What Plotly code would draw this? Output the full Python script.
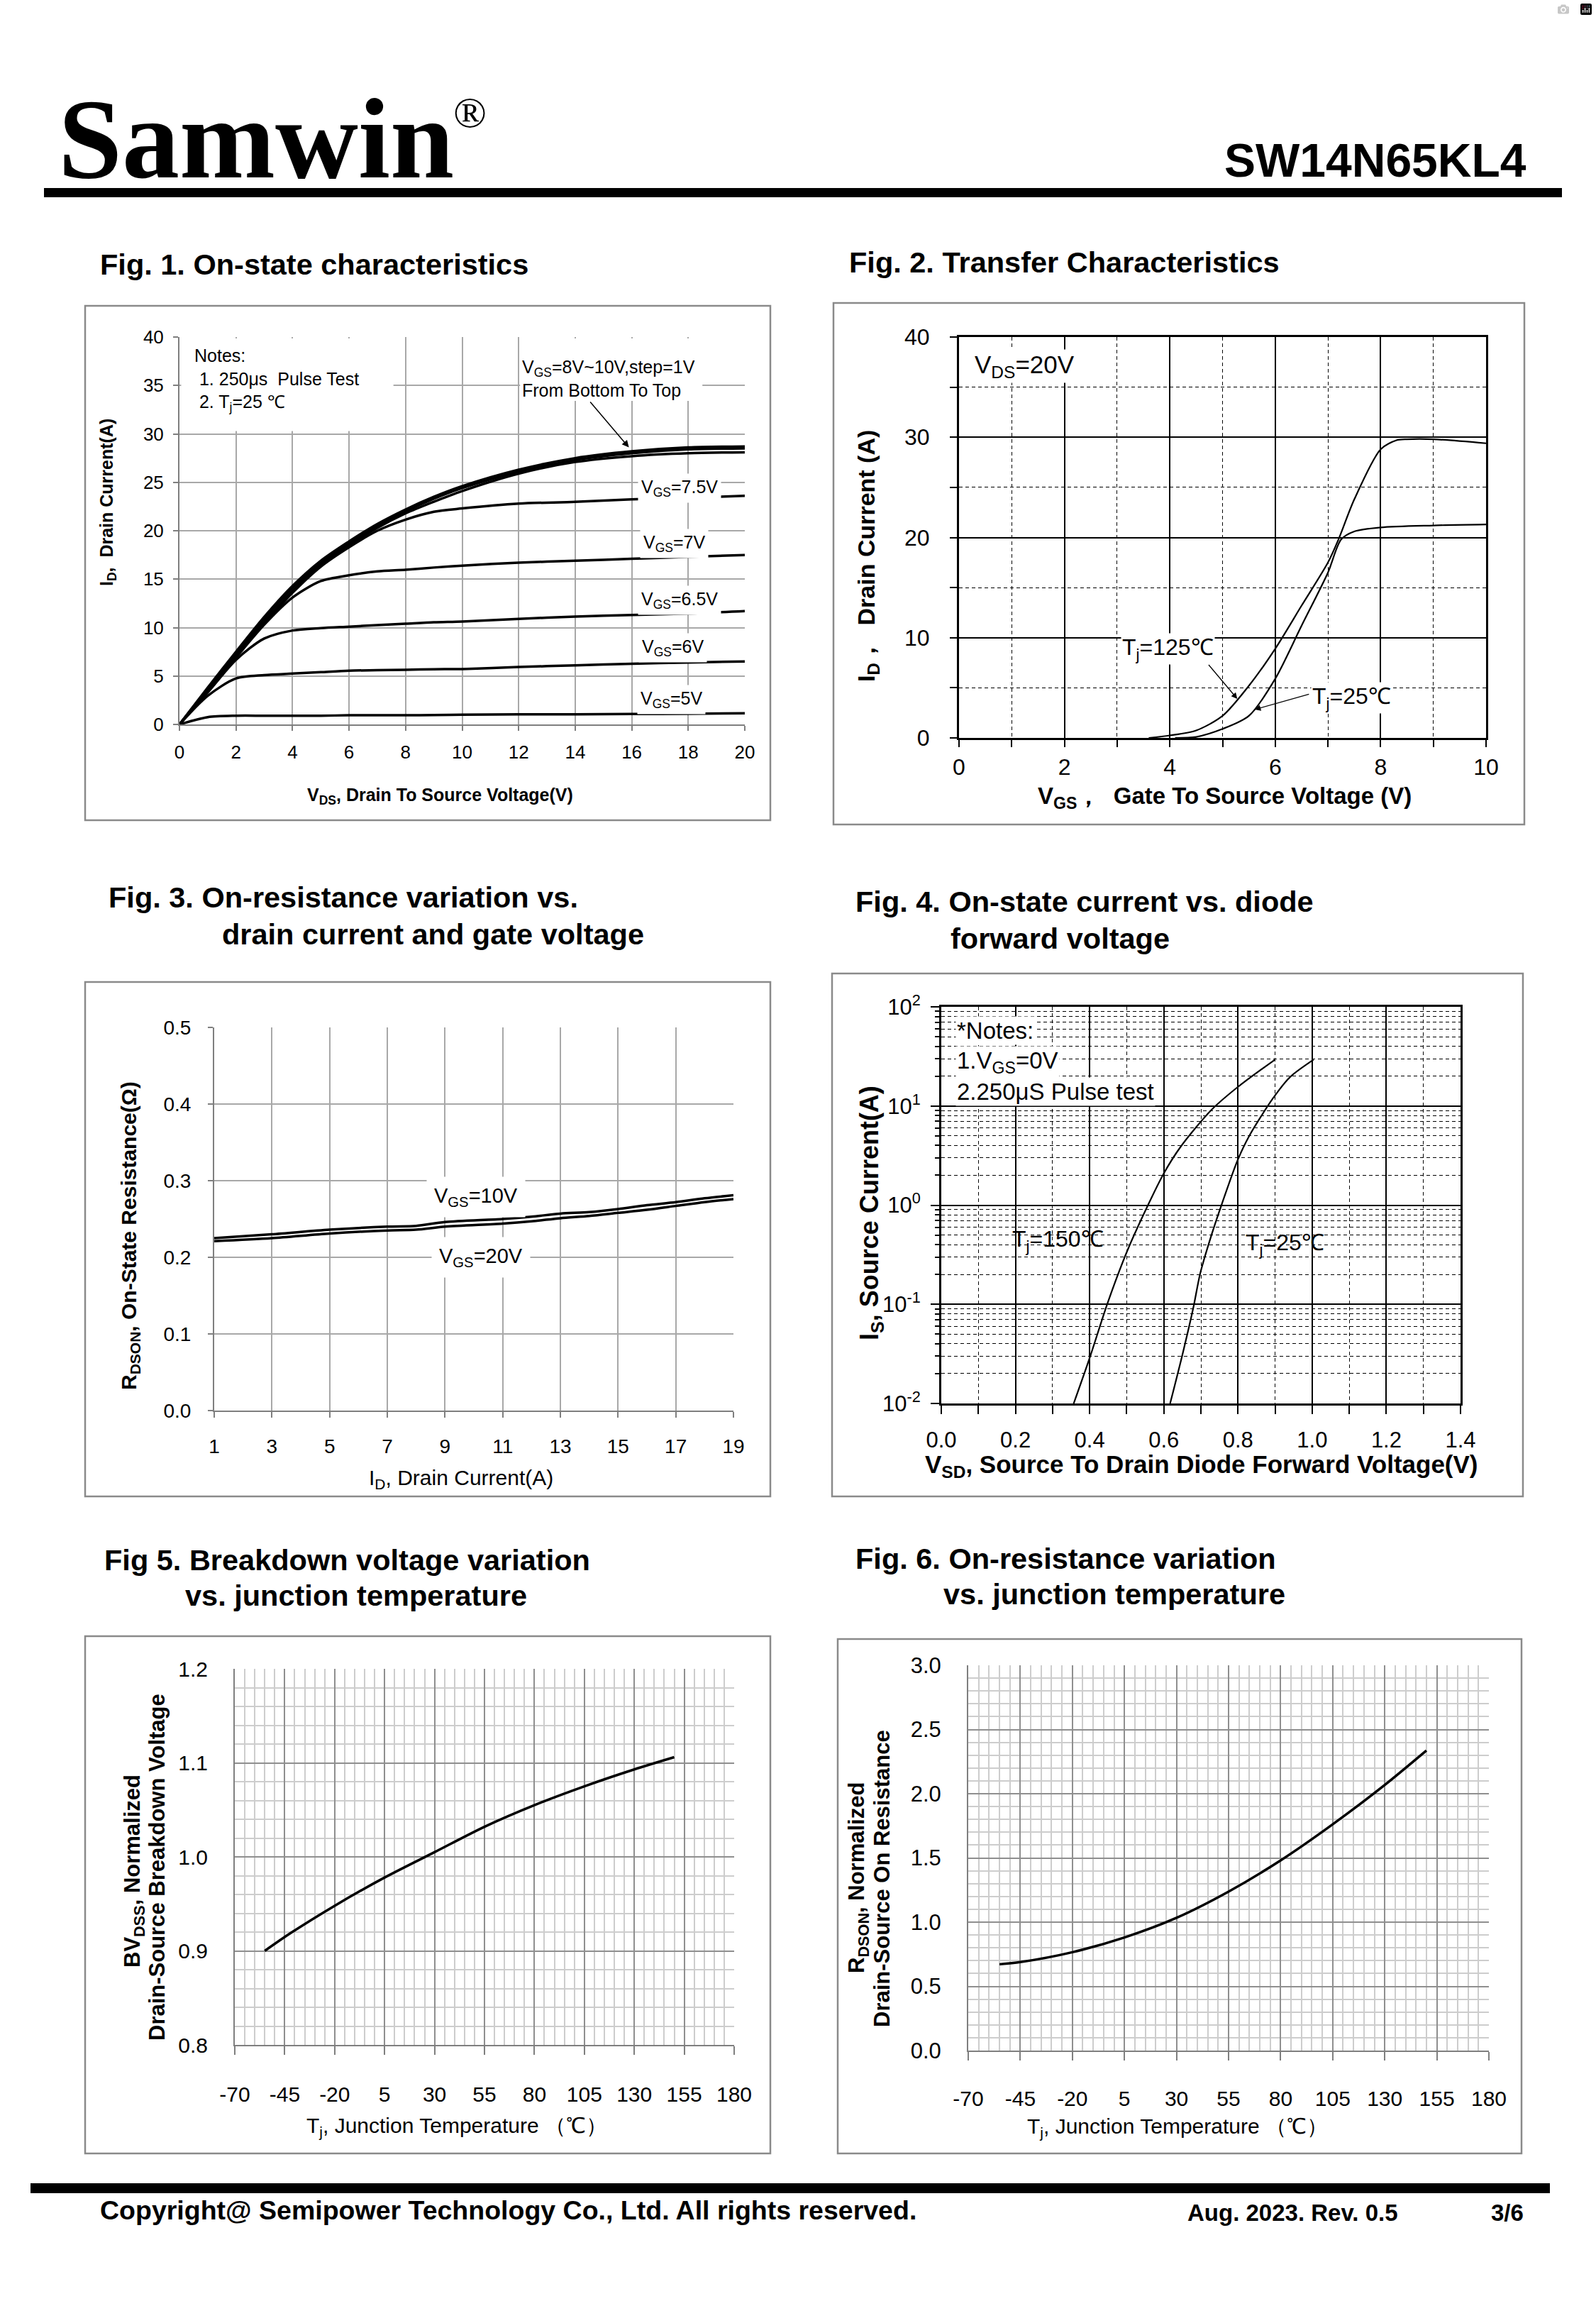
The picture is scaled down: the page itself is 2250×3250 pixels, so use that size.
import plotly.graph_objects as go

W, H = 2250, 3250
FONT = "Liberation Sans, Arial, Helvetica, sans-serif"

# ---------------- data ----------------
# Fig 1: on-state characteristics
f1_vds = [0, 1, 2, 3, 4, 5, 6, 7, 8, 9, 10, 12, 14, 16, 18, 20]
f1_vgs5 = [0, 0.75, 0.9, 0.9, 0.9, 0.9, 0.95, 0.95, 0.95, 0.97, 1.0, 1.05, 1.05, 1.08, 1.1, 1.15]
f1_vgs6 = [0, 2.95, 4.75, 5.1, 5.25, 5.4, 5.55, 5.6, 5.65, 5.7, 5.72, 5.93, 6.1, 6.27, 6.4, 6.5]
f1_vgs65 = [0, 3.3, 6.67, 8.87, 9.7, 9.95, 10.1, 10.25, 10.4, 10.55, 10.63, 10.9, 11.13, 11.3, 11.45, 11.7]
f1_vgs7 = [0, 3.4, 6.9, 10.3, 13.1, 14.8, 15.4, 15.8, 15.97, 16.2, 16.4, 16.7, 16.9, 17.1, 17.3, 17.5]
f1_vgs75 = [0, 3.5, 7.1, 10.4, 13.6, 16.3, 18.3, 20.0, 21.15, 21.96, 22.3, 22.8, 22.98, 23.25, 23.4, 23.6]
f1_vgs8 = [0, 3.6, 7.2, 10.6, 13.8, 16.5, 18.5, 20.3, 21.8, 23.0, 24.1, 25.9, 27.1, 27.7, 28.0, 28.1]
f1_vgs9 = [0, 3.7, 7.4, 10.9, 14.1, 16.7, 18.7, 20.5, 22.0, 23.3, 24.4, 26.1, 27.3, 28.0, 28.4, 28.5]
f1_vgs10 = [0, 3.8, 7.5, 11.1, 14.3, 16.9, 18.9, 20.7, 22.2, 23.5, 24.6, 26.3, 27.5, 28.2, 28.6, 28.7]

# Fig 2: transfer characteristics
f2_vgs_125 = [3.6, 4.0, 4.5, 5.0, 5.5, 6.0, 6.5, 7.0, 7.2, 7.5, 8.0, 8.3, 8.5, 9.0, 10.0]
f2_id_125 = [0, 0.25, 0.75, 2.2, 5.2, 8.9, 13.2, 17.5, 19.8, 23.8, 28.8, 29.7, 29.8, 29.8, 29.4]
f2_vgs_25 = [4.1, 4.5, 5.0, 5.5, 6.0, 6.5, 7.0, 7.25, 7.5, 8.0, 9.0, 10.0]
f2_id_25 = [0, 0.1, 0.9, 2.2, 5.9, 11.2, 16.5, 19.8, 20.6, 21.0, 21.2, 21.3]

# Fig 3: on-resistance vs drain current
f3_id = [1, 3, 5, 7, 8, 9, 11, 12, 13, 14, 15, 16, 17, 18, 19]
f3_r10 = [0.225, 0.23, 0.236, 0.24, 0.241, 0.246, 0.25, 0.253, 0.257, 0.259, 0.263, 0.268, 0.272, 0.277, 0.281]
f3_r20 = [0.221, 0.225, 0.231, 0.235, 0.236, 0.24, 0.244, 0.247, 0.251, 0.254, 0.258, 0.262, 0.267, 0.272, 0.276]

# Fig 4: body diode forward voltage
f4_vsd_150 = [0.357, 0.401, 0.448, 0.502, 0.555, 0.6, 0.645, 0.728, 0.8, 0.9]
f4_is_150 = [0.01, 0.0295, 0.102, 0.35, 0.96, 2.09, 3.86, 9.1, 15.6, 29.4]
f4_vsd_25 = [0.617, 0.651, 0.68, 0.698, 0.73, 0.757, 0.799, 0.829, 0.894, 0.941, 1.004]
f4_is_25 = [0.01, 0.032, 0.094, 0.204, 0.52, 1.04, 2.84, 4.89, 11.9, 19.7, 29.4]

# Fig 5: breakdown voltage vs temperature
f5_tj = [-55, -42, -20, 5, 30, 55, 80, 105, 130, 150]
f5_bv = [0.9, 0.919, 0.948, 0.978, 1.005, 1.032, 1.055, 1.075, 1.093, 1.106]

# Fig 6: on-resistance vs temperature
f6_tj = [-55, -45, -20, 5, 30, 55, 80, 105, 130, 150]
f6_r = [0.672, 0.689, 0.766, 0.881, 1.034, 1.238, 1.481, 1.762, 2.068, 2.336]

# tick labels
f4_ticks = [0.01, 0.1, 1, 10, 100]
f4_ticktext = ["10<sup>-2</sup>", "10<sup>-1</sup>", "10<sup>0</sup>", "10<sup>1</sup>", "10<sup>2</sup>"]
f4_minor = [m * d for d in [0.01, 0.1, 1, 10] for m in [2, 3, 4, 5, 6, 7, 8, 9]]
tj_ticks = [-70, -45, -20, 5, 30, 55, 80, 105, 130, 155, 180]
tj_ticktext = ["-70", "-45", "-20", "5", "30", "55", "80", "105", "130", "155", "180"]

# ---------------- helpers ----------------
def dx(a, b):
    return [a / W, b / W]

def dy(top, bottom):
    return [1 - bottom / H, 1 - top / H]

def px(x):
    return x / W

def py(y):
    return 1 - y / H

fig = go.Figure()

def line_trace(x, y, ax, width):
    fig.add_trace(go.Scatter(
        x=x, y=y, mode="lines",
        line=dict(color="black", width=width, shape="spline", smoothing=0.8),
        xaxis="x" + ax, yaxis="y" + ax, hoverinfo="skip"))

for s in [f1_vgs5, f1_vgs6, f1_vgs65, f1_vgs7, f1_vgs75, f1_vgs8, f1_vgs9, f1_vgs10]:
    line_trace(f1_vds, s, "", 3.5)
line_trace(f2_vgs_125, f2_id_125, "2", 2.2)
line_trace(f2_vgs_25, f2_id_25, "2", 2.2)
line_trace(f3_id, f3_r10, "3", 3.5)
line_trace(f3_id, f3_r20, "3", 3.5)
line_trace(f4_vsd_150, f4_is_150, "4", 2.2)
line_trace(f4_vsd_25, f4_is_25, "4", 2.2)
line_trace(f5_tj, f5_bv, "5", 3.5)
line_trace(f6_tj, f6_r, "6", 3.5)

GRAY_GRID = "#a8a8a8"
GRAY_LINE = "#7f7f7f"

def gray_axis(domain, anchor, rng, dtick, tick0, size, ticklen=7, standoff=6, fmt=None, **kw):
    d = dict(domain=domain, anchor=anchor, range=rng, dtick=dtick, tick0=tick0,
             showgrid=True, gridcolor=GRAY_GRID, gridwidth=2, zeroline=False,
             showline=True, linecolor=GRAY_LINE, linewidth=2, ticks="outside",
             ticklen=ticklen, tickwidth=2, tickcolor=GRAY_LINE,
             tickfont=dict(size=size, family=FONT, color="black"),
             ticklabelstandoff=standoff, automargin=False, fixedrange=True)
    if fmt:
        d["tickformat"] = fmt
    d.update(kw)
    return d

def black_axis(domain, anchor, rng, dtick, minor_dtick, size, ticklen=10, standoff=6, **kw):
    d = dict(domain=domain, anchor=anchor, range=rng, dtick=dtick, tick0=0,
             showgrid=True, gridcolor="black", gridwidth=1.5, zeroline=False,
             showline=True, mirror=True, linecolor="black", linewidth=3,
             ticks="outside", ticklen=ticklen, tickwidth=2, tickcolor="black",
             tickfont=dict(size=size, family=FONT, color="black"),
             ticklabelstandoff=standoff, automargin=False, fixedrange=True,
             minor=dict(dtick=minor_dtick, showgrid=True, gridcolor="black", gridwidth=1.2,
                        griddash="5px,4px", ticks="outside", ticklen=ticklen, tickwidth=2,
                        tickcolor="black"))
    d.update(kw)
    return d

layout = dict(
    width=W, height=H, margin=dict(l=0, r=0, t=0, b=0),
    paper_bgcolor="white", plot_bgcolor="white", showlegend=False,
    font=dict(family=FONT, color="black"),
    xaxis=gray_axis(dx(253, 1050), "y", [0, 20], 2, 0, 26, standoff=8),
    yaxis=gray_axis(dy(475, 1021), "x", [0, 40], 5, 0, 26, standoff=8),
    xaxis2=black_axis(dx(1352, 2095), "y2", [0, 10], 2, 1, 32, standoff=1),
    yaxis2=black_axis(dy(475, 1040), "x2", [0, 40], 10, 5, 32, standoff=22),
    xaxis3=gray_axis(dx(302, 1034), "y3", [1, 19], 2, 1, 28, ticklen=8, standoff=16),
    yaxis3=gray_axis(dy(1448, 1988), "x3", [0, 0.5], 0.1, 0, 28, ticklen=7, standoff=18, fmt=".1f"),
    xaxis4=black_axis(dx(1327, 2059), "y4", [0, 1.4], 0.2, 0.1, 31, ticklen=12, standoff=10, tickformat=".1f"),
    yaxis4=dict(domain=dy(1419, 1978), anchor="x4", type="log", range=[-2, 2],
                tickmode="array", tickvals=f4_ticks, ticktext=f4_ticktext,
                showgrid=True, gridcolor="black", gridwidth=1.5, zeroline=False,
                showline=True, mirror=True, linecolor="black", linewidth=3,
                ticks="outside", ticklen=12, tickwidth=2, tickcolor="black",
                tickfont=dict(size=31, family=FONT, color="black"),
                ticklabelstandoff=8, automargin=False, fixedrange=True,
                minor=dict(tickmode="array", tickvals=f4_minor, showgrid=True, gridcolor="black",
                           gridwidth=1.2, griddash="5px,4px", ticks="outside", ticklen=6,
                           tickwidth=2, tickcolor="black")),
    xaxis5=gray_axis(dx(331, 1035), "y5", [-70, 180], 25, -70, 30, ticklen=12, standoff=30,
                     gridcolor="#8f8f8f", tickmode="array", tickvals=tj_ticks, ticktext=tj_ticktext,
                     minor=dict(dtick=5, tick0=-70, showgrid=True, gridcolor="#cdcdcd", gridwidth=1.5)),
    yaxis5=gray_axis(dy(2352, 2882), "x5", [0.8, 1.2], 0.1, 0.8, 30, ticklen=0, standoff=30, fmt=".1f",
                     gridcolor="#8f8f8f", ticks="",
                     minor=dict(dtick=0.02, tick0=0.8, showgrid=True, gridcolor="#cdcdcd", gridwidth=1.5)),
    xaxis6=gray_axis(dx(1365, 2099), "y6", [-70, 180], 25, -70, 30, ticklen=12, standoff=28,
                     gridcolor="#8f8f8f", tickmode="array", tickvals=tj_ticks, ticktext=tj_ticktext,
                     minor=dict(dtick=5, tick0=-70, showgrid=True, gridcolor="#cdcdcd", gridwidth=1.5)),
    yaxis6=gray_axis(dy(2347, 2890), "x6", [0, 3], 0.5, 0, 31, ticklen=0, standoff=30, fmt=".1f",
                     gridcolor="#8f8f8f", ticks="",
                     minor=dict(dtick=0.1, tick0=0, showgrid=True, gridcolor="#cdcdcd", gridwidth=1.5)),
)
fig.update_layout(**layout)

# ---------------- shapes ----------------
shapes = []
BOX = "#8a8a8a"
for (x0, y0, x1, y1) in [(120, 431, 1086, 1156), (1175, 427, 2149, 1162),
                         (120, 1384, 1086, 2109), (1173, 1372, 2147, 2109),
                         (120, 2306, 1086, 3035), (1181, 2310, 2145, 3035)]:
    shapes.append(dict(type="rect", xref="paper", yref="paper", x0=px(x0), x1=px(x1),
                       y0=py(y1), y1=py(y0), line=dict(color=BOX, width=2.5), fillcolor="rgba(0,0,0,0)"))
shapes.append(dict(type="rect", xref="paper", yref="paper", x0=px(62), x1=px(2202), y0=py(278), y1=py(265),
                   line=dict(width=0), fillcolor="black"))
shapes.append(dict(type="rect", xref="paper", yref="paper", x0=px(43), x1=px(2185), y0=py(3091), y1=py(3077),
                   line=dict(width=0), fillcolor="black"))
shapes.append(dict(type="rect", xref="x", yref="y", x0=0.06, x1=7.57, y0=30.3, y1=39.85,
                   line=dict(width=0), fillcolor="white", layer="between"))
shapes.append(dict(type="rect", xref="x", yref="y", x0=12.05, x1=18.5, y0=33.4, y1=39.85,
                   line=dict(width=0), fillcolor="white", layer="between"))
fig.update_layout(shapes=shapes)

# ---------------- annotations ----------------
ann = []

def ptext(text, x, y, size, xanchor="left", yanchor="middle", angle=0, family=FONT, bg=None, align="left"):
    d = dict(text=text, x=px(x), y=py(y), xref="paper", yref="paper", showarrow=False,
             xanchor=xanchor, yanchor=yanchor, textangle=angle, align=align,
             font=dict(size=size, family=family, color="black"))
    if bg:
        d["bgcolor"] = bg
    ann.append(d)

def dtext(text, x, y, ax, size, xanchor="center", bg="white", pad=4, align="left"):
    d = dict(text=text, x=x, y=y, xref="x" + ax, yref="y" + ax, showarrow=False,
             xanchor=xanchor, yanchor="middle", align=align,
             font=dict(size=size, family=FONT, color="black"), borderpad=pad)
    if bg:
        d["bgcolor"] = bg
    ann.append(d)

def arrow(x, y, tx, ty, ax, width=1.5, head=2):
    ann.append(dict(text="", x=x, y=y, ax=tx, ay=ty, xref="x" + ax, yref="y" + ax,
                    axref="x" + ax, ayref="y" + ax, showarrow=True, arrowhead=head,
                    arrowsize=1.3, arrowwidth=width, arrowcolor="black", standoff=0, startstandoff=0))

# header
ptext("<b>Samwin</b>", 80, 196, 162, family="Liberation Serif, Times New Roman, serif")
ptext("®", 662, 158, 62, xanchor="center", family="Liberation Serif, Times New Roman, serif")
ptext("<b>SW14N65KL4</b>", 2154, 226, 66, xanchor="right")

# figure titles
TS = 41.5
ptext("<b>Fig. 1. On-state characteristics</b>", 139, 373, TS)
ptext("<b>Fig. 2. Transfer Characteristics</b>", 1195, 369, TS)
ptext("<b>Fig. 3. On-resistance variation vs.</b>", 151, 1264, TS)
ptext("<b>drain current and gate voltage</b>", 311, 1316, TS)
ptext("<b>Fig. 4. On-state current vs. diode</b>", 1204, 1270, TS)
ptext("<b>forward voltage</b>", 1338, 1322, TS)
ptext("<b>Fig 5. Breakdown voltage variation</b>", 145, 2198, TS)
ptext("<b>vs. junction temperature</b>", 259, 2248, TS)
ptext("<b>Fig. 6. On-resistance variation</b>", 1204, 2196, TS)
ptext("<b>vs. junction temperature</b>", 1328, 2246, TS)

# footer
ptext("<b>Copyright@ Semipower Technology Co., Ltd. All rights reserved.</b>", 139, 3115, 37.5)
ptext("<b>Aug. 2023. Rev. 0.5</b>", 1672, 3118, 33)
ptext("<b>3/6</b>", 2150, 3118, 33, xanchor="right")

# Fig1
ptext("<b>V<sub>DS</sub>, Drain To Source Voltage(V)</b>", 620, 1122, 25, xanchor="center")
ptext("<b>I<sub>D</sub>,  Drain Current(A)</b>", 152, 708, 25, xanchor="center", angle=-90)
ptext("Notes:<br>\u00a01. 250μs  Pulse Test<br>\u00a02. T<sub>j</sub>=25 ℃", 272, 535, 25)
ptext("V<sub>GS</sub>=8V~10V,step=1V<br>From Bottom To Top", 734, 533, 25)
arrow(15.9, 28.6, 14.5, 33.4, "")
dtext("V<sub>GS</sub>=7.5V", 17.7, 24.4, "", 25)
dtext("V<sub>GS</sub>=7V", 17.5, 18.7, "", 25)
dtext("V<sub>GS</sub>=6.5V", 17.7, 12.8, "", 25)
dtext("V<sub>GS</sub>=6V", 17.45, 7.9, "", 25)
dtext("V<sub>GS</sub>=5V", 17.4, 2.6, "", 25)

# Fig2
ptext("<b>V<sub>GS</sub>，  Gate To Source Voltage (V)</b>", 1726, 1124, 33, xanchor="center")
ptext("<b>I<sub>D</sub>，  Drain Current (A)</b>", 1223, 784, 34, xanchor="center", angle=-90)
ptext("V<sub>DS</sub>=20V", 1372, 516, 35, bg="white")
ptext("T<sub>j</sub>=125℃", 1580, 915, 32, bg="white")
ptext("T<sub>j</sub>=25℃", 1848, 983, 32, bg="white")
arrow(5.28, 3.9, 4.72, 7.4, "2", width=1.3)
arrow(5.61, 2.83, 6.66, 4.4, "2", width=1.3)

# Fig3
ptext("I<sub>D</sub>, Drain Current(A)", 650, 2084, 30, xanchor="center")
ptext("<b>R<sub>DSON</sub>, On-State Resistance(Ω)</b>", 183, 1741, 30, xanchor="center", angle=-90)
dtext("V<sub>GS</sub>=10V", 10.07, 0.279, "3", 29, pad=10)
dtext("V<sub>GS</sub>=20V", 10.25, 0.200, "3", 29, pad=10)

# Fig4
ptext("<b>V<sub>SD</sub>, Source To Drain Diode Forward Voltage(V)</b>", 1694, 2066, 35, xanchor="center")
ptext("<b>I<sub>S</sub>, Source Current(A)</b>", 1228, 1710, 36, xanchor="center", angle=-90)
ptext("*Notes:", 1347, 1452, 33, bg="white")
ptext("1.V<sub>GS</sub>=0V", 1347, 1497, 33, bg="white")
ptext("2.250μS Pulse test", 1347, 1539, 33, bg="white")
ptext("T<sub>j</sub>=150℃", 1425, 1748, 32)
ptext("T<sub>j</sub>=25℃", 1754, 1753, 32)

# Fig5
ptext("T<sub>j</sub>, Junction Temperature （℃）", 644, 2997, 30, xanchor="center")
ptext("<b>BV<sub>DSS</sub>, Normalized</b>", 189, 2637, 31, xanchor="center", angle=-90)
ptext("<b>Drain-Source Breakdown Voltage</b>", 221, 2632, 31, xanchor="center", angle=-90)

# Fig6
ptext("T<sub>j</sub>, Junction Temperature （℃）", 1660, 2998, 30, xanchor="center")
ptext("<b>R<sub>DSON</sub>, Normalized</b>", 1210, 2647, 31, xanchor="center", angle=-90)
ptext("<b>Drain-Source On Resistance</b>", 1243, 2648, 31, xanchor="center", angle=-90)

fig.update_layout(annotations=ann)

fig.write_html("out.html", post_script="document.body.style.margin='0px';")
